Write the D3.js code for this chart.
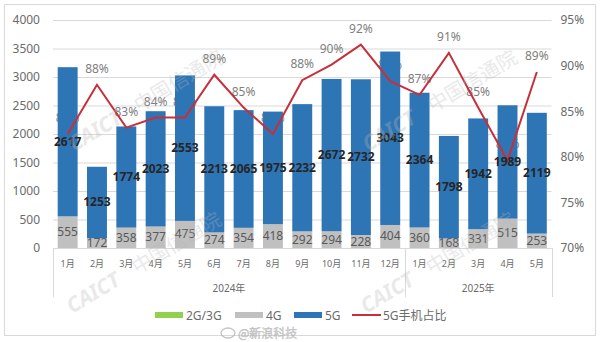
<!DOCTYPE html>
<html>
<head>
<meta charset="utf-8">
<script src="https://cdn.jsdelivr.net/npm/d3@7"></script>
<style>
  body { margin: 0; background: #fff; }
  text { font-family: "Noto Sans", "Noto Sans CJK SC", sans-serif; }
</style>
</head>
<body>
<svg id="chart" width="600" height="342"></svg>
<script>
// Monthly handset shipments (10k units) by network generation, plus 5G share
const months = ["1月","2月","3月","4月","5月","6月","7月","8月","9月","10月","11月","12月",
                "1月","2月","3月","4月","5月"];
const yearLabels = ["2024年", "2025年"];
const yearMonthCounts = [12, 5];
const ship2g3g = [0,0,0,0,0,0,0,0,0,0,0,0,0,0,0,0,0];
const ship4g = [555,172,358,377,475,274,354,418,292,294,228,404,360,168,331,515,253];
const ship5g = [2617,1253,1774,2023,2553,2213,2065,1975,2232,2672,2732,3043,2364,1798,1942,1989,2119];
const share5g = [82.5,87.9,83.2,84.3,84.3,89.0,85.4,82.5,88.4,90.1,92.3,88.3,86.8,91.4,85.4,79.6,89.3];
const leftTicks = [0,500,1000,1500,2000,2500,3000,3500,4000];
const rightTicks = [70,75,80,85,90,95];
const seriesNames = ["2G/3G","4G","5G"];
const lineName = "5G手机占比";

const colors = { g23: "#92d050", g4: "#c0c0c0", g5: "#2e75b6", line: "#c5303a" };

const svg = d3.select("#chart");
const plot = { left: 53, right: 551.5, top: 20, bottom: 248 };

// outer frame
svg.append("rect")
  .attr("x", 4.5).attr("y", 4.5).attr("width", 591).attr("height", 331)
  .attr("fill", "#fff").attr("stroke", "#d9d9d9").attr("stroke-width", 1);

const rows = months.map((m, i) => ({ i, g23: ship2g3g[i], g4: ship4g[i], g5: ship5g[i] }));

const x = d3.scaleBand()
  .domain(d3.range(months.length))
  .range([plot.left, plot.right])
  .paddingInner(0.32).paddingOuter(0.16);

const y = d3.scaleLinear().domain([0, 4000]).range([plot.bottom, plot.top]);
const y2 = d3.scaleLinear().domain([70, 95]).range([plot.bottom, plot.top]);
const cx = i => x(i) + x.bandwidth() / 2;

// gridlines
svg.append("g")
  .attr("transform", `translate(${plot.left},0)`)
  .call(d3.axisLeft(y).tickValues(leftTicks).tickSize(-(plot.right - plot.left)).tickFormat(""))
  .call(g => g.select(".domain").remove())
  .call(g => g.selectAll("line").attr("stroke", "#d9d9d9"));

// left axis labels
svg.append("g")
  .attr("transform", `translate(${plot.left},0)`)
  .call(d3.axisLeft(y).tickValues(leftTicks).tickSize(0).tickPadding(13).tickFormat(d3.format("d")))
  .call(g => g.select(".domain").remove())
  .call(g => g.selectAll("text").attr("fill", "#6b6b6b").style("font-size", "12px"));

// right axis labels
svg.append("g")
  .attr("transform", `translate(${plot.right},0)`)
  .call(d3.axisRight(y2).tickValues(rightTicks).tickSize(0).tickPadding(9).tickFormat(d => d + "%"))
  .call(g => g.select(".domain").remove())
  .call(g => g.selectAll("text").attr("fill", "#6b6b6b").style("font-size", "12px"));

// share labels sit beneath the bars, so those falling on a bar stay covered
svg.append("g").selectAll("text")
  .data(share5g).join("text")
  .attr("x", (d, i) => cx(i))
  .attr("y", d => y2(d) - 12)
  .attr("text-anchor", "middle")
  .attr("fill", "#808080")
  .style("font-size", "12px")
  .text(d => Math.round(d) + "%");

// stacked bars
const stack = d3.stack().keys(["g23", "g4", "g5"]);
const layers = stack(rows);
svg.append("g").selectAll("g")
  .data(layers).join("g")
  .attr("fill", d => colors[d.key])
  .selectAll("rect")
  .data(d => d).join("rect")
  .attr("x", (d, i) => x(i))
  .attr("width", x.bandwidth())
  .attr("y", d => y(d[1]))
  .attr("height", d => y(d[0]) - y(d[1]));

// category axis: baseline, group separators, month and year labels
const axisG = svg.append("g");
axisG.append("line")
  .attr("x1", plot.left).attr("x2", plot.right)
  .attr("y1", plot.bottom + 0.5).attr("y2", plot.bottom + 0.5)
  .attr("stroke", "#d9d9d9");
let acc = 0;
const bounds = [0];
yearMonthCounts.forEach(n => { acc += n; bounds.push(acc); });
const step = x.step();
bounds.forEach((k, j) => {
  const xx = j === 0 ? plot.left : (j === bounds.length - 1 ? plot.right : x(k) - (step - x.bandwidth()) / 2);
  axisG.append("line")
    .attr("x1", Math.round(xx) + 0.5).attr("x2", Math.round(xx) + 0.5)
    .attr("y1", plot.bottom).attr("y2", 297)
    .attr("stroke", "#d9d9d9");
});
axisG.selectAll("text.month")
  .data(months).join("text")
  .attr("class", "month")
  .attr("x", (d, i) => cx(i))
  .attr("y", 267)
  .attr("text-anchor", "middle")
  .attr("fill", "#6b6b6b")
  .style("font-size", "9px")
  .text(d => d);
yearLabels.forEach((lab, j) => {
  const a = bounds[j], b = bounds[j + 1] - 1;
  axisG.append("text")
    .attr("x", (x(a) + x(b) + x.bandwidth()) / 2).attr("y", 292)
    .attr("text-anchor", "middle")
    .attr("fill", "#6b6b6b")
    .style("font-size", "10px")
    .text(lab);
});

// 5G share line
const line = d3.line()
  .x((d, i) => cx(i))
  .y(d => y2(d));
svg.append("path")
  .datum(share5g)
  .attr("d", line)
  .attr("fill", "none")
  .attr("stroke", colors.line)
  .attr("stroke-width", 2)
  .attr("stroke-linejoin", "miter");

// 4G value labels
svg.append("g").selectAll("text")
  .data(layers[1]).join("text")
  .attr("x", (d, i) => cx(i))
  .attr("y", d => (y(d[0]) + y(d[1])) / 2 + 4)
  .attr("text-anchor", "middle")
  .attr("fill", "#595959")
  .style("font-size", "12px")
  .text(d => d.data.g4);

// 5G value labels
svg.append("g").selectAll("text")
  .data(layers[2]).join("text")
  .attr("x", (d, i) => cx(i))
  .attr("y", d => (y(d[0]) + y(d[1])) / 2 + 4)
  .attr("text-anchor", "middle")
  .attr("fill", "#262626")
  .style("font-size", "12px")
  .style("font-weight", "bold")
  .text(d => d.data.g5);

// legend
const legend = svg.append("g").attr("transform", "translate(0,315)");
const legendItems = [
  { name: seriesNames[0], color: colors.g23, x: 155, type: "rect" },
  { name: seriesNames[1], color: colors.g4, x: 235, type: "rect" },
  { name: seriesNames[2], color: colors.g5, x: 294, type: "rect" },
  { name: lineName, color: colors.line, x: 352, type: "line" }
];
legendItems.forEach(it => {
  if (it.type === "rect") {
    legend.append("rect").attr("x", it.x).attr("y", -3).attr("width", 28).attr("height", 6).attr("fill", it.color);
  } else {
    legend.append("line").attr("x1", it.x).attr("x2", it.x + 29).attr("y1", 0).attr("y2", 0)
      .attr("stroke", it.color).attr("stroke-width", 2);
  }
  legend.append("text").attr("x", it.x + 31).attr("y", 4.5)
    .attr("fill", "#6b6b6b").style("font-size", "12px").text(it.name);
});

// watermarks
const marks = [[74, 152], [368, 152], [72, 314], [366, 314]];
marks.forEach(([mx, my]) => {
  const wm = svg.append("g")
    .attr("transform", `translate(${mx},${my}) rotate(-31)`)
    .attr("opacity", 0.3)
    .attr("fill", "#b8b8b8");
  wm.append("text").attr("x", 0).attr("y", 0)
    .style("font-size", "21px").style("font-weight", "bold").style("font-style", "italic")
    .text("CAICT");
  wm.append("text").attr("x", 76).attr("y", 0)
    .style("font-size", "20px").style("font-family", "Noto Sans CJK SC")
    .text("中国信通院");
});
const wb = svg.append("g").attr("transform", "translate(220,338)").attr("opacity", 0.75);
wb.append("ellipse").attr("cx", 8).attr("cy", -5).attr("rx", 7).attr("ry", 5)
  .attr("fill", "none").attr("stroke", "#b0b0b0").attr("stroke-width", 1.3);
wb.append("text").attr("x", 18).attr("y", 0)
  .attr("fill", "#c4c4c4").attr("stroke", "#a8a8a8").attr("stroke-width", 0.4)
  .style("font-size", "12px").style("font-family", "Noto Sans CJK SC")
  .text("@新浪科技");
</script>
</body>
</html>
